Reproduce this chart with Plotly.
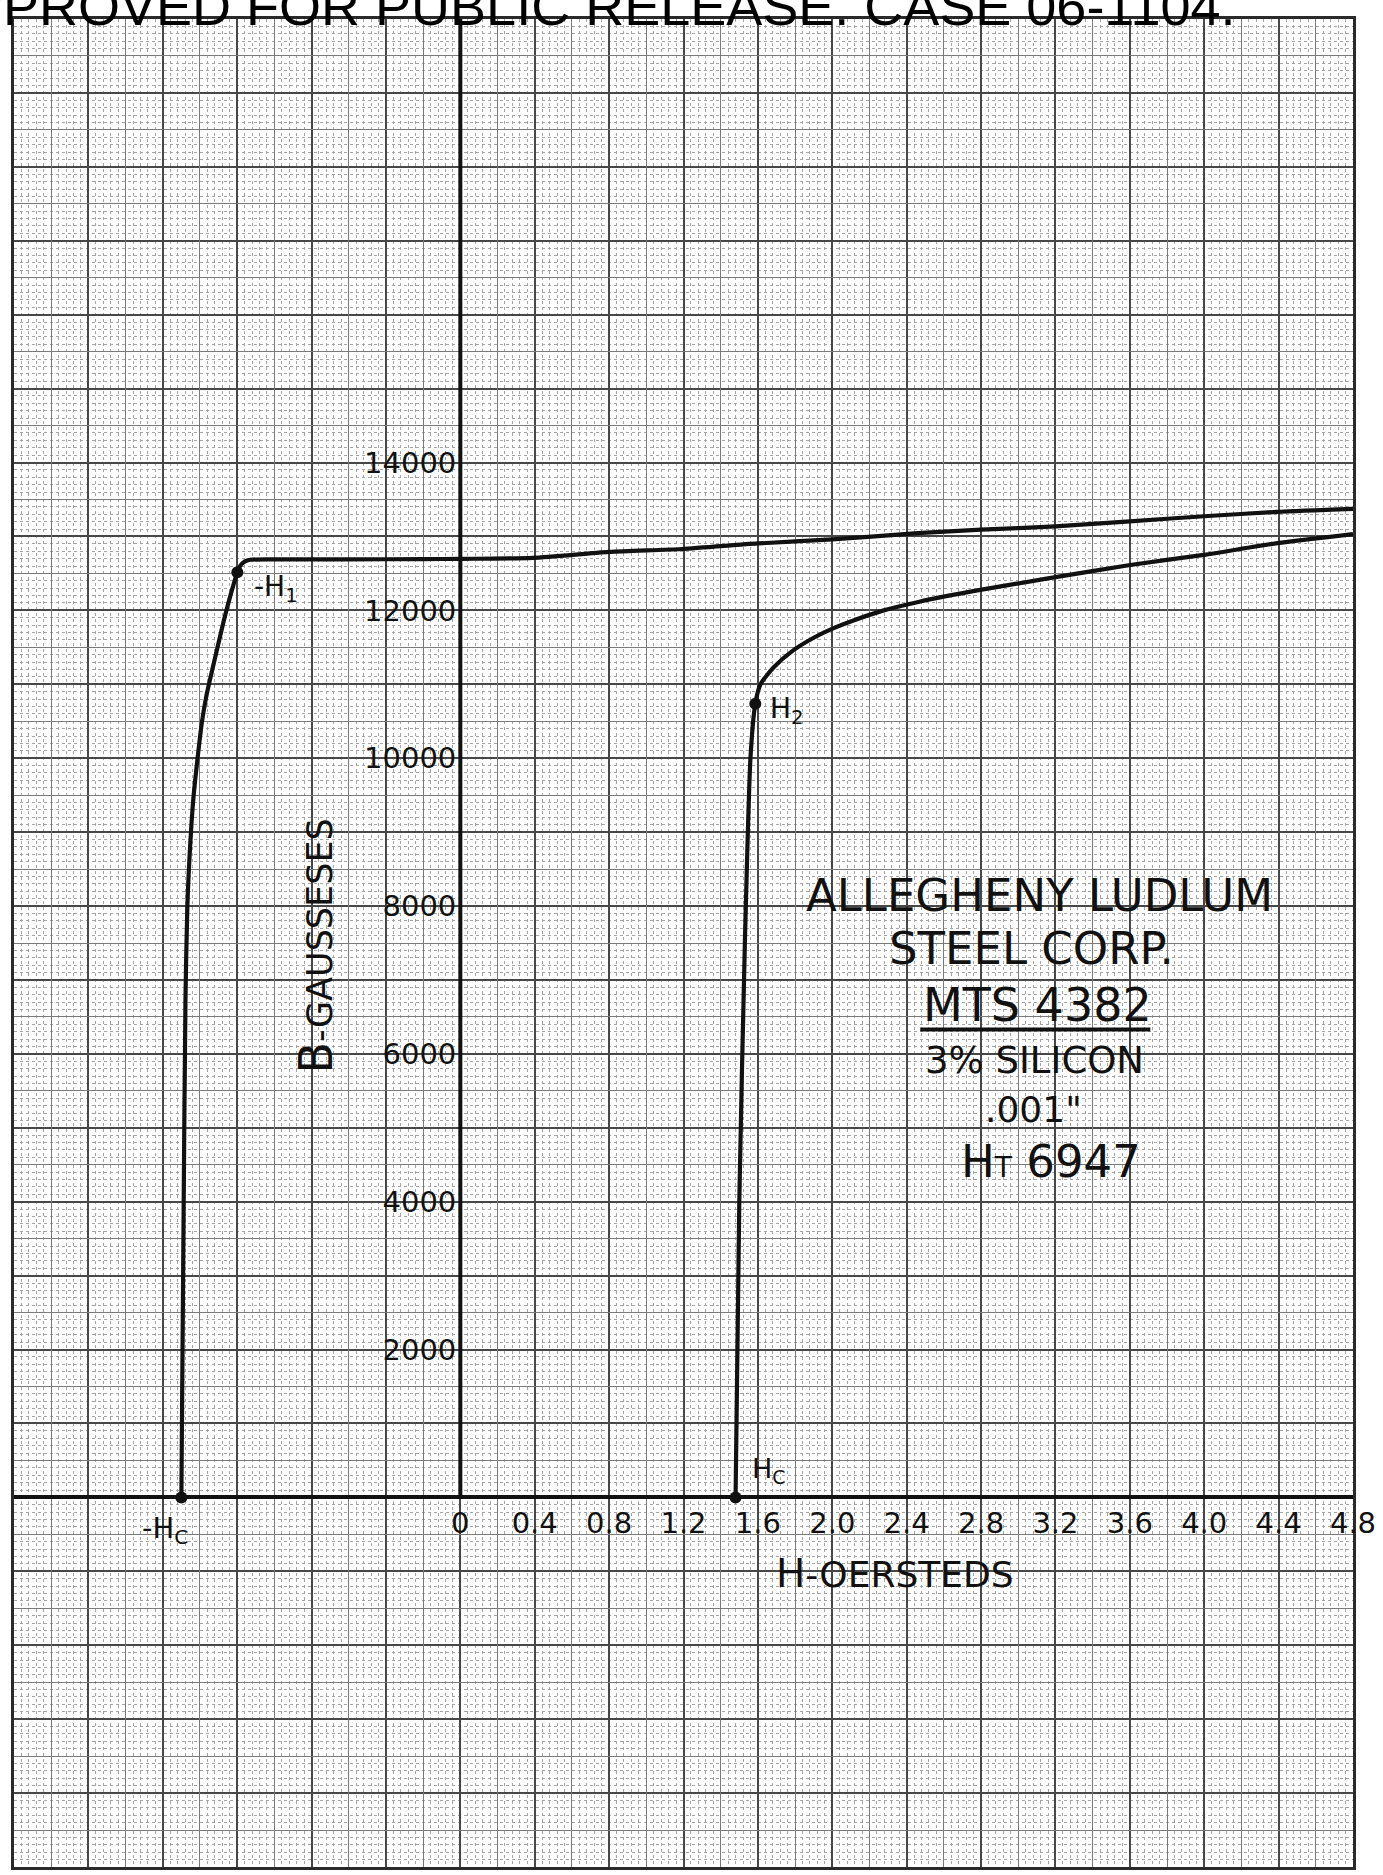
import plotly.graph_objects as go

# ---------------- data ----------------
# descending branch: from -Hc up through -H1, then across the top
upper_H = [-1.50, -1.488, -1.478, -1.468, -1.452, -1.435, -1.414, -1.390, -1.365, -1.325,
           -1.272, -1.232, -1.199, -1.183, -1.160, -1.130, -1.0, -0.6, -0.2, 0.0, 0.39,
           0.80, 1.19, 1.60, 2.0, 2.46, 2.8, 3.2, 3.6, 4.0, 4.39, 4.8]
upper_B = [0, 3850, 6725, 7985, 8850, 9470, 9975, 10480, 10850, 11290,
           11860, 12240, 12517, 12605, 12660, 12684, 12690, 12690, 12693, 12697, 12710,
           12790, 12830, 12905, 12960, 13045, 13091, 13136, 13205, 13273, 13332, 13373]

# ascending branch: from Hc up through H2 to the right edge
lower_H = [1.48, 1.50, 1.53, 1.56, 1.586, 1.614, 1.684, 1.788, 1.905, 1.998, 2.114,
           2.277, 2.463, 2.788, 3.16, 3.602, 3.998, 4.393, 4.8]
lower_B = [0, 4000, 7500, 10000, 10736, 11000, 11227, 11455, 11636, 11750, 11864,
           12000, 12114, 12273, 12432, 12614, 12750, 12909, 13032]

# marked points: -Hc, Hc, -H1, H2
point_H = [-1.50, 1.48, -1.199, 1.586]
point_B = [0, 0, 12517, 10736]

# axes
H_RANGE = [-2.4, 4.8]
B_RANGE = [-5000, 20000]
x_tick_vals = [0, 0.4, 0.8, 1.2, 1.6, 2.0, 2.4, 2.8, 3.2, 3.6, 4.0, 4.4, 4.8]
x_tick_text = ["0", "0.4", "0.8", "1.2", "1.6", "2.0", "2.4", "2.8", "3.2", "3.6", "4.0", "4.4", "4.8"]
y_tick_vals = [2000, 4000, 6000, 8000, 10000, 12000, 14000]
y_tick_text = ["2000", "4000", "6000", "8000", "10000", "12000", "14000"]

FONT = "DejaVu Sans"
INK = "#111111"

# medium grid (odd multiples of 0.2 / 500)
x_mid = [round(-2.2 + 0.4 * i, 2) for i in range(18)]
y_mid = [-4500 + 1000 * i for i in range(25)]

fig = go.Figure()

# upper branch lives on the medium-grid overlay axes (same ranges as main axes)
fig.add_trace(go.Scatter(x=upper_H, y=upper_B, mode="lines", xaxis="x3", yaxis="y3",
                         line=dict(color=INK, width=4.2, shape="spline", smoothing=0.7),
                         hoverinfo="skip", showlegend=False))
fig.add_trace(go.Scatter(x=lower_H, y=lower_B, mode="lines",
                         line=dict(color=INK, width=4.2, shape="spline", smoothing=0.6),
                         hoverinfo="skip", showlegend=False))
# marked points on the labelled overlay axes (same ranges as main axes)
fig.add_trace(go.Scatter(x=point_H, y=point_B, mode="markers", xaxis="x2", yaxis="y2",
                         marker=dict(color=INK, size=12),
                         hoverinfo="skip", showlegend=False))

grid_heavy = "#474747"
grid_mid = "#7a7a7a"
grid_minor = "#a4a4a4"

fig.update_layout(
    width=1383, height=1875,
    margin=dict(l=14, r=30, t=19, b=8, pad=0),
    paper_bgcolor="white", plot_bgcolor="white",
    showlegend=False,
    xaxis=dict(range=H_RANGE, tick0=0, dtick=0.4, showticklabels=False, ticks="",
               showgrid=True, gridcolor=grid_heavy, gridwidth=1.6, zeroline=False,
               showline=True, mirror=True, linecolor="#2a2a2a", linewidth=2.5,
               minor=dict(dtick=0.04, tick0=0, showgrid=True, gridcolor=grid_minor,
                          griddash="dot", gridwidth=1.2),
               automargin=False, fixedrange=True),
    yaxis=dict(range=B_RANGE, tick0=0, dtick=1000, showticklabels=False, ticks="",
               showgrid=True, gridcolor=grid_heavy, gridwidth=1.6,
               zeroline=True, zerolinecolor=INK, zerolinewidth=4,
               showline=True, mirror=True, linecolor="#2a2a2a", linewidth=2.5,
               minor=dict(dtick=100, tick0=0, showgrid=True, gridcolor=grid_minor,
                          griddash="dot", gridwidth=1.2),
               automargin=False, fixedrange=True),
    xaxis3=dict(overlaying="x", anchor="y3", range=H_RANGE, tickmode="array", tickvals=x_mid,
                showticklabels=False, ticks="", showgrid=True, gridcolor=grid_mid, gridwidth=1.3,
                zeroline=False, showline=False, automargin=False, fixedrange=True),
    yaxis3=dict(overlaying="y", anchor="x3", range=B_RANGE, tickmode="array", tickvals=y_mid,
                showticklabels=False, ticks="", showgrid=True, gridcolor=grid_mid, gridwidth=1.3,
                zeroline=False, showline=False, automargin=False, fixedrange=True),
    xaxis2=dict(overlaying="x", anchor="free", position=0.2, side="bottom", range=H_RANGE,
                tickmode="array", tickvals=x_tick_vals, ticktext=x_tick_text,
                tickfont=dict(family=FONT, size=29, color=INK), ticks="",
                ticklabelstandoff=6, showgrid=False, zeroline=False, showline=False,
                automargin=False, fixedrange=True),
    yaxis2=dict(overlaying="y", anchor="free", position=1/3, side="left", range=B_RANGE,
                tickmode="array", tickvals=y_tick_vals, ticktext=y_tick_text,
                tickfont=dict(family=FONT, size=29, color=INK), ticks="",
                ticklabelstandoff=4, showgrid=False, zeroline=False, showline=False,
                automargin=False, fixedrange=True),
)

# B axis line (x = 0), drawn from B = 0 upward
fig.add_shape(type="line", xref="x", yref="y", x0=0, x1=0, y0=0, y1=B_RANGE[1],
              line=dict(color=INK, width=4))

# underline under MTS 4382
fig.add_shape(type="line", xref="x", yref="y", x0=2.473, x1=3.71, y0=6330, y1=6330,
              line=dict(color=INK, width=4))

def ann(text, x, y, size, xanchor="center", yanchor="middle", angle=0, family=FONT):
    fig.add_annotation(text=text, x=x, y=y, xref="x", yref="y", showarrow=False,
                       xanchor=xanchor, yanchor=yanchor, textangle=angle,
                       font=dict(family=family, size=size, color=INK))

# point labels
ann("-H<sub>1</sub>", -1.12, 12290, 28, xanchor="left")
ann("H<sub>2</sub>", 1.656, 10640, 28, xanchor="left")
ann("H<sub>C</sub>", 1.56, 370, 27, xanchor="left")
ann("-H<sub>C</sub>", -1.72, -440, 29, xanchor="left")

# axis titles
ann("<span style='font-size:39px'>H</span>-OERSTEDS", 1.685, -1028, 36, xanchor="left")
ann("<span style='font-size:46px'>B</span>-GAUSSESES", -0.775, 7455, 35, angle=-90)

# info block
ann("ALLEGHENY LUDLUM", 3.113, 8146, 45)
ann("STEEL CORP.", 3.07, 7429, 45)
ann("MTS 4382", 3.102, 6658, 46)
ann("3% SILICON", 3.086, 5913, 37)
ann(".001\"", 3.081, 5250, 36)
ann("H<span style='font-size:28px'>T</span> 6947", 3.177, 4547, 45)

# clipped release stamp at the very top of the page
fig.add_annotation(text="APPROVED FOR PUBLIC RELEASE. CASE 06-1104.",
                   x=-0.0635, y=0.9895, xref="paper", yref="paper", showarrow=False,
                   xanchor="left", yanchor="bottom",
                   font=dict(family="Liberation Sans", size=54, color="black"))

fig.write_html("out.html", config={"displayModeBar": False},
               post_script="document.body.style.margin='0';")
